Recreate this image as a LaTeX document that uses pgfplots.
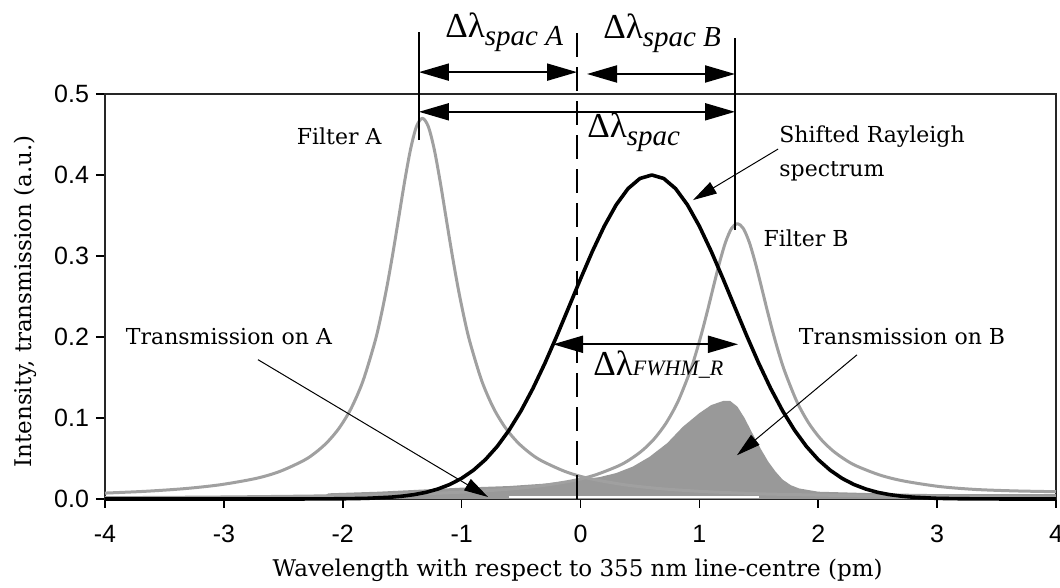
\documentclass[border=0pt]{standalone}
\usepackage{fontspec}
\setmainfont{DejaVu Serif}
\newfontfamily\tnr{Liberation Serif}
\newfontfamily\ticksf{Liberation Sans}
\usepackage{pgfplots}
\usepackage{pgfplotstable}
\pgfplotsset{compat=1.18}
\usetikzlibrary{arrows.meta}
\definecolor{filtgray}{RGB}{160,160,160}
\definecolor{fillgray}{RGB}{153,153,153}

\pgfplotstableread{
x y
-4.00 0.0073
-3.66 0.0095
-3.33 0.0128
-3.03 0.0176
-2.73 0.0254
-2.53 0.0340
-2.33 0.0474
-2.23 0.0572
-2.13 0.0701
-2.03 0.0876
-1.93 0.1117
-1.83 0.1456
-1.73 0.1937
-1.68 0.2247
-1.63 0.2608
-1.58 0.3019
-1.53 0.3465
-1.48 0.3915
-1.43 0.4315
-1.38 0.4598
-1.33 0.4700
-1.28 0.4598
-1.23 0.4315
-1.18 0.3915
-1.13 0.3465
-1.08 0.3019
-1.03 0.2608
-0.98 0.2247
-0.93 0.1937
-0.83 0.1456
-0.73 0.1117
-0.63 0.0876
-0.53 0.0701
-0.43 0.0572
-0.33 0.0474
-0.13 0.0340
0.07 0.0254
0.37 0.0176
0.67 0.0128
1.00 0.0095
1.34 0.0073
1.67 0.0058
2.67 0.0033
4.00 0.0019
}\filterA

\pgfplotstableread{
x y
-4.00 0.0016
-3.00 0.0025
-2.00 0.0042
-1.36 0.0064
-1.01 0.0084
-0.68 0.0113
-0.38 0.0154
-0.08 0.0222
0.12 0.0295
0.32 0.0409
0.42 0.0492
0.52 0.0599
0.62 0.0742
0.72 0.0937
0.82 0.1203
0.92 0.1568
0.97 0.1794
1.02 0.2051
1.07 0.2334
1.12 0.2631
1.17 0.2920
1.22 0.3169
1.27 0.3339
1.32 0.3400
1.37 0.3339
1.42 0.3169
1.47 0.2920
1.52 0.2631
1.57 0.2334
1.62 0.2051
1.67 0.1794
1.72 0.1568
1.82 0.1203
1.92 0.0937
2.02 0.0742
2.12 0.0599
2.22 0.0492
2.32 0.0409
2.52 0.0295
2.72 0.0222
3.02 0.0154
3.32 0.0118
3.65 0.0100
4.00 0.0090
}\filterB

\pgfplotstableread{
x y
-4.0 0
-2.4 0
-2.0 0.0003
-1.8 0.0008
-1.6 0.0022
-1.5 0.0035
-1.4 0.0054
-1.3 0.0082
-1.2 0.0123
-1.1 0.0179
-1.0 0.0255
-0.9 0.0356
-0.8 0.0486
-0.7 0.0650
-0.6 0.0851
-0.5 0.1089
-0.4 0.1365
-0.3 0.1674
-0.2 0.2010
-0.1 0.2362
0.0 0.2716
0.1 0.3057
0.2 0.3368
0.3 0.3631
0.4 0.3832
0.5 0.3957
0.6 0.4000
0.7 0.3957
0.8 0.3832
0.9 0.3631
1.0 0.3368
1.1 0.3057
1.2 0.2716
1.3 0.2362
1.4 0.2010
1.5 0.1674
1.6 0.1365
1.7 0.1089
1.8 0.0851
1.9 0.0650
2.0 0.0486
2.1 0.0356
2.2 0.0255
2.3 0.0179
2.4 0.0123
2.5 0.0082
2.6 0.0054
2.7 0.0035
2.8 0.0022
3.0 0.0008
3.2 0.0003
3.6 0
4.0 0
}\rayleigh

\pgfplotstableread{
x y
-2.20 0
-2.12 0.007
-1.70 0.009
-1.00 0.014
-0.60 0.016
-0.30 0.019
0.00 0.024
0.16 0.027
0.30 0.032
0.44 0.040
0.58 0.052
0.73 0.069
0.86 0.089
1.00 0.106
1.10 0.116
1.20 0.121
1.26 0.121
1.32 0.114
1.38 0.100
1.45 0.080
1.52 0.061
1.58 0.046
1.64 0.034
1.70 0.024
1.77 0.017
1.84 0.013
2.00 0.009
2.50 0.007
3.00 0.006
4.00 0.006
}\transm

\newcommand{\dl}[1]{{\tnr\fontsize{17.5}{20}\selectfont Δλ}\raisebox{-4pt}{\tnr\itshape\fontsize{14.5}{16}\selectfont #1}}

\begin{document}
\begin{tikzpicture}
\path[use as bounding box] (-52.5pt,-44.5pt) rectangle (477.5pt,249.5pt);
\begin{axis}[
  at={(0,0)}, anchor=south west,
  scale only axis, width=475.5pt, height=202.5pt,
  xmin=-4, xmax=4, ymin=0, ymax=0.5,
  clip=false,
  xtick={-4,-3,-2,-1,0,1,2,3,4},
  ytick={0,0.1,0.2,0.3,0.4,0.5},
  xtick pos=bottom, ytick pos=left,
  tick align=outside, major tick length=4.5pt,
  tick style={black, line width=0.8pt},
  axis line style={black!85, line width=1pt},
  /pgf/number format/assume math mode=true,
  tick label style={font=\ticksf\fontsize{12.5}{14}\selectfont},
  yticklabel style={/pgf/number format/fixed, /pgf/number format/fixed zerofill, /pgf/number format/precision=1},
  xticklabel style={yshift=-5pt},
  xlabel={Wavelength with respect to 355 nm line-centre (pm)},
  ylabel={Intensity, transmission (a.u.)},
  label style={font=\fontsize{11.5}{13}\selectfont},
  xlabel style={at={(axis description cs:0.497,-0.175)}, anchor=center},
  ylabel style={at={(axis description cs:-0.084,0.488)}, anchor=center, rotate=0},
]
\addplot[fill=fillgray, draw=none] table[x=x,y=y]{\transm} \closedcycle;
\addplot[white, line width=0.7pt] coordinates {(-0.6,0.0025) (1.5,0.0025)};
\addplot[filtgray, line width=1.5pt, smooth, tension=0.5, line join=round] table[x=x,y=y]{\filterA};
\addplot[filtgray, line width=1.5pt, smooth, tension=0.5, line join=round] table[x=x,y=y]{\filterB};
\addplot[black, line width=1.8pt, line join=round] table[x=x,y=y]{\rayleigh};

% vertical guide lines
\draw[black, line width=0.9pt] (axis cs:-1.359,0.443) -- (axis cs:-1.359,0.5765);
\draw[black, line width=0.9pt] (axis cs:1.300,0.332) -- (axis cs:1.300,0.569);
\draw[black, line width=1pt, dash pattern=on 12pt off 5pt] (axis cs:-0.029,0) -- (axis cs:-0.029,0.581);

% dimension arrows
\tikzset{dim/.style={{Triangle[length=15pt,width=8.5pt]}-{Triangle[length=15pt,width=8.5pt]}, line width=1pt}}
\draw[dim] (axis cs:-1.359,0.527) -- (axis cs:-0.029,0.527);
\draw[dim] (axis cs:0.055,0.5247) -- (axis cs:1.300,0.5247);
\draw[dim] (axis cs:-1.359,0.478) -- (axis cs:1.300,0.478);
\draw[dim] (axis cs:-0.231,0.191) -- (axis cs:1.325,0.191);

\node[anchor=base west, inner sep=0] at (axis cs:-1.140,0.570) {\dl{spac A}};
\node[anchor=base west, inner sep=0] at (axis cs:0.189,0.569) {\dl{spac B}};
\node[anchor=base west, inner sep=0] at (axis cs:0.055,0.4457) {\dl{spac}};
\node[anchor=base west, inner sep=0] at (axis cs:0.105,0.153) {{\tnr\fontsize{17.5}{20}\selectfont Δλ}{\tnr\itshape\fontsize{11}{13}\selectfont FWHM\_R}};

% labels
\tikzset{lab/.style={font=\fontsize{11}{13}\selectfont, inner sep=0}}
\node[lab] at (axis cs:-2.03,0.448) {Filter A};
\node[lab] at (axis cs:1.897,0.322) {Filter B};
\node[lab, anchor=west] at (axis cs:1.67,0.448) {Shifted Rayleigh};
\node[lab, anchor=west] at (axis cs:1.67,0.404) {spectrum};
\node[lab] at (axis cs:-2.957,0.20) {Transmission on A};
\node[lab] at (axis cs:2.705,0.20) {Transmission on B};

% pointer arrows
\tikzset{ptr/.style={-{Triangle[length=12pt,width=6.5pt]}, line width=0.5pt}}
\draw[ptr] (axis cs:-2.713,0.172) -- (axis cs:-0.778,0.0025);
\draw[ptr] (axis cs:2.326,0.178) -- (axis cs:1.316,0.054);
\draw[ptr] (axis cs:1.662,0.432) -- (axis cs:0.946,0.369);
\end{axis}
\end{tikzpicture}
\end{document}
